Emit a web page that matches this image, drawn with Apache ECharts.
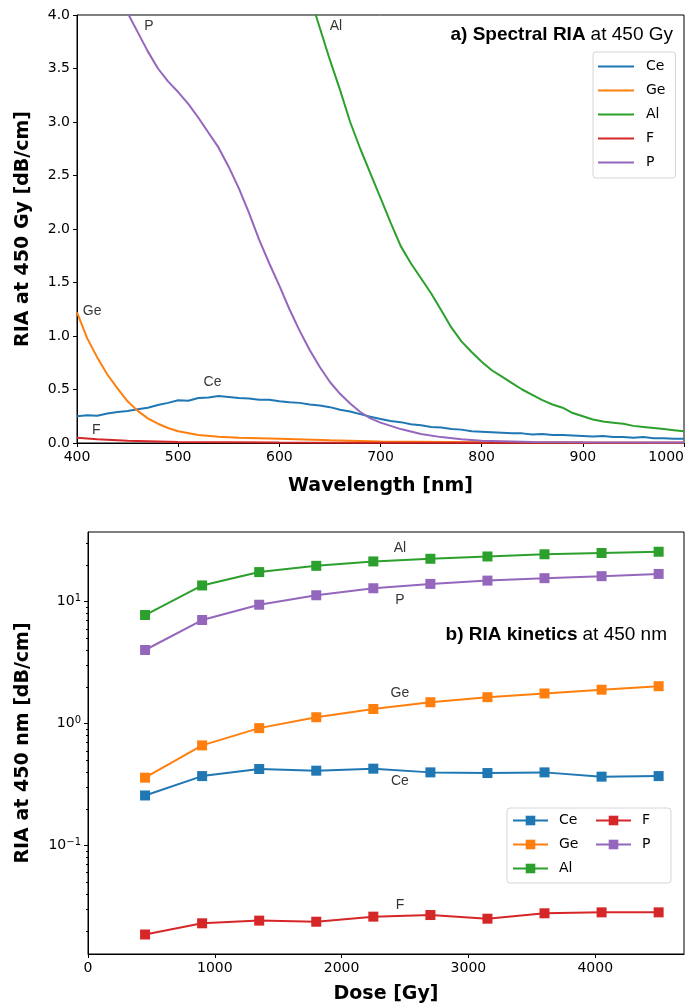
<!DOCTYPE html>
<html><head><meta charset="utf-8">
<script src="https://cdn.jsdelivr.net/npm/echarts@6/dist/echarts.min.js"></script>
<style>html,body{margin:0;padding:0;background:#fff}#c{width:699px;height:1006px}</style>
</head><body><div id="c"></div>
<script>
// ---------- (a) Spectral RIA at 450 Gy ----------
var wlCe = [400,410,420,430,440,450,460,470,480,490,500,510,520,530,540,550,560,570,580,590,600,610,620,630,640,650,660,670,680,690,700,710,720,730,740,750,760,770,780,790,800,810,820,830,840,850,860,870,880,890,900,910,920,930,940,950,960,970,980,990,1000];
var riaCe = [0.25,0.26,0.255,0.275,0.29,0.30,0.315,0.33,0.355,0.375,0.40,0.395,0.42,0.425,0.44,0.43,0.42,0.415,0.405,0.405,0.39,0.38,0.375,0.36,0.35,0.335,0.31,0.295,0.27,0.245,0.225,0.205,0.195,0.175,0.165,0.15,0.145,0.13,0.125,0.11,0.105,0.10,0.095,0.09,0.09,0.08,0.085,0.075,0.075,0.07,0.065,0.06,0.065,0.055,0.055,0.05,0.055,0.045,0.045,0.04,0.04];
var wlGe = [400,410,420,430,440,450,460,470,480,490,500,520,540,560,580,600,650,700,800,900,1000];
var riaGe = [1.22,0.98,0.80,0.64,0.51,0.39,0.30,0.23,0.18,0.14,0.11,0.075,0.058,0.05,0.045,0.04,0.025,0.015,0.007,0.004,0.003];
var wlAl = [600,620,636,650,660,670,680,690,700,710,720,730,740,750,760,770,780,790,800,810,820,830,840,850,860,870,880,890,900,910,920,930,940,950,960,970,980,990,1000];
var riaAl = [5.1,4.5,4.0,3.58,3.3,3.0,2.75,2.52,2.29,2.06,1.84,1.68,1.54,1.40,1.24,1.08,0.95,0.85,0.76,0.68,0.62,0.56,0.50,0.45,0.40,0.36,0.33,0.28,0.25,0.22,0.20,0.19,0.18,0.16,0.15,0.14,0.13,0.12,0.11];
var wlF = [400,420,450,500,600,700,1000];
var riaF = [0.05,0.035,0.02,0.01,0.004,0.003,0.002];
var wlP = [400,420,440,450,460,470,480,490,500,510,520,530,540,550,560,570,580,590,600,610,620,630,640,650,660,670,680,690,700,720,740,760,780,800,850,900,1000];
var riaP = [5.0,4.6,4.2,4.02,3.84,3.66,3.50,3.38,3.28,3.17,3.04,2.90,2.76,2.58,2.38,2.15,1.90,1.68,1.47,1.25,1.05,0.87,0.71,0.57,0.46,0.37,0.29,0.23,0.19,0.13,0.085,0.055,0.035,0.022,0.01,0.006,0.004];
var annTopNames = ['P','Al','Ge','Ce','F'];
var annTopX = [471,656,415,534,419];
var annTopY = [3.9,3.9,1.23,0.57,0.12];
var wlTicks = [400,500,600,700,800,900,1000];

// ---------- (b) RIA kinetics at 450 nm ----------
var dose = [450,900,1350,1800,2250,2700,3150,3600,4050,4500];
var kinCe = [0.258,0.372,0.425,0.412,0.428,0.399,0.394,0.399,0.368,0.372];
var kinGe = [0.361,0.664,0.92,1.13,1.32,1.50,1.65,1.77,1.90,2.03];
var kinAl = [7.78,13.6,17.5,19.7,21.4,22.5,23.5,24.5,25.1,25.7];
var kinF  = [0.0187,0.0231,0.0243,0.0238,0.0262,0.0270,0.0252,0.0279,0.0284,0.0284];
var kinP  = [4.02,7.08,9.45,11.3,12.9,14.0,14.9,15.6,16.2,16.9];
var annBotNames = ['Al','P','Ge','Ce','F'];
var annBotX = [2460,2460,2460,2460,2460];
var annBotY = [27.5,10.3,1.79,0.339,0.0327];
var doseTicks = [0,1000,2000,3000,4000];
var logMajor = [0.1,1,10];
var logMinor = [0.02,0.03,0.04,0.05,0.06,0.07,0.08,0.09,0.2,0.3,0.4,0.5,0.6,0.7,0.8,0.9,2,3,4,5,6,7,8,9,20,30];

var names = ['Ce','Ge','Al','F','P'];
var colors = {Ce:'#1f77b4',Ge:'#ff7f0e',Al:'#2ca02c',F:'#d62728',P:'#9467bd'};

function zip(a,b){return a.map(function(v,i){return [v,b[i]];});}

var TF = 'DejaVu Sans';
var AF = 'Liberation Sans';

var chart = echarts.init(document.getElementById('c'), null, {renderer:'canvas'});

var axisCommon = {
  axisLine:{show:true,lineStyle:{color:'#000',width:1}},
  axisTick:{show:true,inside:false,length:4,lineStyle:{color:'#000',width:1}},
  axisLabel:{color:'#000',fontFamily:TF,fontSize:14,margin:7},
  splitLine:{show:false},
  nameLocation:'middle',
  nameTextStyle:{color:'#000',fontFamily:TF,fontSize:19,fontWeight:'bold'}
};
function ax(o){return echarts.util.merge(echarts.util.clone(axisCommon), o, true);}

var topSeries = [
  {n:'Ce', x:wlCe, y:riaCe},
  {n:'Ge', x:wlGe, y:riaGe},
  {n:'Al', x:wlAl, y:riaAl},
  {n:'F',  x:wlF,  y:riaF},
  {n:'P',  x:wlP,  y:riaP}
].map(function(s,i){
  return {type:'line', name:s.n, xAxisIndex:0, yAxisIndex:0, data:zip(s.x,s.y),
    symbol:'none', clip:true, z:2+i, color:colors[s.n],
    lineStyle:{color:colors[s.n], width:2}};
});

var botSeries = [
  {n:'Ce', y:kinCe},{n:'Ge', y:kinGe},{n:'Al', y:kinAl},{n:'F', y:kinF},{n:'P', y:kinP}
].map(function(s,i){
  return {type:'line', name:s.n+' (b)', xAxisIndex:1, yAxisIndex:1, data:zip(dose,s.y),
    symbol:'rect', symbolSize:10, showSymbol:true, clip:true, z:2+i, color:colors[s.n],
    itemStyle:{color:colors[s.n]},
    lineStyle:{color:colors[s.n], width:2}};
});

function annSeries(xi, yi, nm, xs, ys){
  return {type:'scatter', name:'ann'+xi, xAxisIndex:xi, yAxisIndex:yi, symbolSize:0, silent:true, z:20,
    data: nm.map(function(n,i){return {name:n, value:[xs[i], ys[i]]};}),
    label:{show:true, position:'inside', formatter:'{b}', color:'#000', fontFamily:AF, fontSize:14}};
}

var supMap = {'-1':'\u22121','0':'0','1':'1'};
var titleRich = {b:{fontFamily:AF,fontSize:19,fontWeight:'bold',color:'#000'},r:{fontFamily:AF,fontSize:19,fontWeight:'normal',color:'#000'}};

var option = {
  animation:false,
  backgroundColor:'#fff',
  title:[
    {text:'{b|a) Spectral RIA} {r|at 450 Gy}', right:21, top:20, textStyle:{fontWeight:'normal', rich:titleRich}},
    {text:'{b|b) RIA kinetics} {r|at 450 nm}', right:27, top:620, textStyle:{fontWeight:'normal', rich:titleRich}}
  ],
  legend:[
    {data:names, orient:'vertical', left:593, top:52, icon:'rect', itemWidth:36, itemHeight:2, itemGap:7,
     padding:[6,10,7,5], borderColor:'#d5d5d5', borderWidth:1, borderRadius:3, backgroundColor:'#fff',
     textStyle:{fontFamily:TF,fontSize:14,color:'#000',padding:[0,0,0,7],lineHeight:17}},
    {data:names.map(function(n){return n+' (b)';}), orient:'vertical', left:507, top:808,
     height:80, itemWidth:35, itemHeight:12, itemGap:7,
     padding:[4,0,6,5], borderColor:'#d5d5d5', borderWidth:1, borderRadius:3, backgroundColor:'#fff',
     formatter:function(n){return n.replace(' (b)','');},
     textStyle:{fontFamily:TF,fontSize:14,color:'#000',padding:[0,0,0,6],width:29,lineHeight:17}}
  ],
  grid:[
    {left:77, right:15, top:15, height:428, show:true, borderColor:'#000', borderWidth:1, containLabel:false, outerBoundsMode:'none'},
    {left:88, right:15, top:532, height:422, show:true, borderColor:'#000', borderWidth:1, containLabel:false, outerBoundsMode:'none'}
  ],
  xAxis:[
    ax({type:'value', gridIndex:0, min:400, max:1000, interval:100, name:'Wavelength [nm]', nameGap:34,
        axisLabel:{customValues:wlTicks, alignMaxLabel:'right', formatter:function(v){return String(v);}},
        axisTick:{customValues:wlTicks}}),
    ax({type:'value', gridIndex:1, min:0, max:4700, name:'Dose [Gy]', nameGap:31,
        axisLabel:{customValues:doseTicks, formatter:function(v){return String(v);}},
        axisTick:{customValues:doseTicks}})
  ],
  yAxis:[
    ax({type:'value', gridIndex:0, min:0, max:4, interval:0.5, name:'RIA at 450 Gy [dB/cm]', nameGap:44,
        axisLabel:{formatter:function(v){return v.toFixed(1);}}}),
    ax({type:'log', logBase:10, gridIndex:1, position:'left', min:0.01294, max:37.3, name:'RIA at 450 nm [dB/cm]', nameGap:55,
        axisTick:{customValues:logMajor},
        axisLabel:{customValues:logMajor, formatter:function(v){
          var e = Math.round(Math.log10(v));
          return '{t|10}{s|' + supMap[String(e)] + '}';
        }, rich:{t:{fontFamily:TF,fontSize:14,color:'#000'}, s:{fontFamily:TF,fontSize:10,color:'#000',verticalAlign:'top',padding:[0,0,6,0]}}}}),
    ax({type:'log', logBase:10, gridIndex:1, position:'left', offset:0, min:0.01294, max:37.3,
        axisLine:{show:false}, axisLabel:{show:false},
        axisTick:{customValues:logMinor, length:2}})
  ],
  series: topSeries.concat(botSeries).concat([
    annSeries(0,0,annTopNames,annTopX,annTopY),
    annSeries(1,1,annBotNames,annBotX,annBotY)
  ])
};
chart.setOption(option);
</script></body></html>
